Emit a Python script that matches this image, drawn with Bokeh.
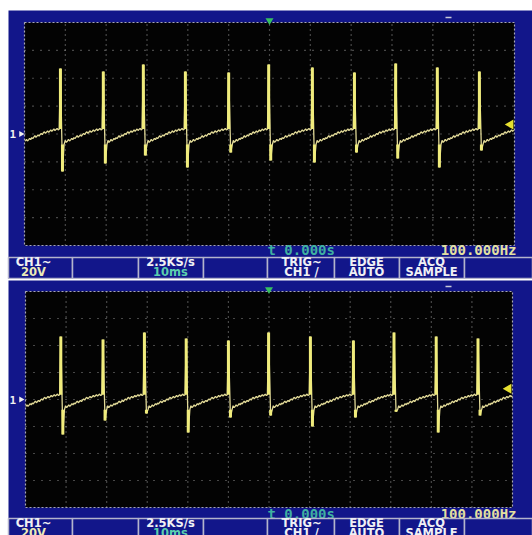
from bokeh.plotting import figure
from bokeh.layouts import column
from bokeh.models import Range1d
from bokeh.core.properties import value
from bokeh.embed import file_html
from bokeh.resources import INLINE
import math

# ---------------- data ----------------
X_DIVS_MS = [-60, -50, -40, -30, -20, -10, 0, 10, 20, 30, 40, 50, 60]
Y_DIVS_V = [-80, -60, -40, -20, 0, 20, 40, 60, 80]

TOP_SPIKE_T = [-51.2, -40.7, -30.9, -20.6, -10.0, -0.2, 10.5, 20.8, 30.9, 41.1, 51.4]
TOP_PEAK_V = [47.0, 44.8, 49.8, 44.8, 44.1, 49.8, 47.7, 44.1, 50.5, 47.7, 44.8]
TOP_TROUGH_V = [-26.9, -21.1, -15.4, -24.0, -13.3, -19.0, -20.4, -13.3, -17.6, -24.0, -11.8]

BOT_SPIKE_T = [-51.3, -40.9, -30.7, -20.4, -10.0, -0.1, 10.2, 20.8, 30.8, 41.2, 51.5]
BOT_PEAK_V = [46.7, 44.4, 49.6, 45.2, 43.7, 49.6, 46.7, 43.7, 49.6, 46.7, 45.2]
BOT_TROUGH_V = [-25.9, -15.6, -10.4, -24.4, -13.3, -11.9, -20.0, -13.3, -9.0, -24.4, -11.9]

# baseline between two spikes, read from left to right inside one cycle (V)
CYCLE_SHAPE_V = [-7.5, -4.6, -6.0, -5.2, -3.9, -5.0, -4.2, -3.1, -4.0, -2.6, -3.3, -2.2,
                 -1.2, -2.4, -1.5, -0.6, -1.6, -0.3, 0.4, -0.5, 0.9, 1.6, 0.5, 1.4,
                 2.3, 1.2, 2.0, 3.0, 1.9, 2.8, 3.6, 2.5, 3.3, 4.0, 2.9, 3.5]

TRIG_LEVEL_V = [6.8, 8.0]

STATUS_LINE1 = ["CH1~", "2.5KS/s", "TRIG~", "EDGE", "ACQ"]
STATUS_LINE2 = ["20V", "10ms", "CH1 /", "AUTO", "SAMPLE"]
TRIG_TIME = "t 0.000s"
FREQ = "100.000Hz"
CH_MARK = "1"

# ---------------- styling ----------------
BLUE = "#12168a"
MONO = value("DejaVu Sans Mono")
SANS = value("DejaVu Sans")
W = 532


def build_trace(ts, peaks, troughs):
    n = len(CYCLE_SHAPE_V)
    gaps = [b - a for a, b in zip(ts[:-1], ts[1:])]
    period = sum(gaps) / len(gaps)

    def seg(start, gap):
        return [(start + 0.9 + k * (gap - 1.2) / (n - 1), v) for k, v in enumerate(CYCLE_SHAPE_V)]

    xs, ys = [], []
    for t, v in seg(ts[0] - period, period):
        if t >= X_DIVS_MS[0]:
            xs.append(t); ys.append(v)
    for i, t in enumerate(ts):
        xs += [t, t + 0.5]
        ys += [peaks[i], troughs[i]]
        gap = gaps[i] if i < len(gaps) else period
        for tt, v in seg(t, gap):
            if tt <= X_DIVS_MS[-1]:
                xs.append(tt); ys.append(v)
    return xs, ys


def panel(H, box, blue_top, blue_bottom, status_y, bar_top, spikes, peaks, troughs, trig_v,
          marker_y):
    gl, gr, gt, gb = box
    sx = (gr - gl) / (X_DIVS_MS[-1] - X_DIVS_MS[0])
    sy = (gb - gt) / (Y_DIVS_V[-1] - Y_DIVS_V[0])
    x0 = X_DIVS_MS[0] - gl / sx
    ytop = Y_DIVS_V[-1] + gt / sy

    def px(u):
        return x0 + u / sx

    def py(v):
        return ytop - v / sy

    p = figure(width=W, height=H, x_range=Range1d(x0, px(W)), y_range=Range1d(py(H), ytop),
               output_backend="svg", toolbar_location=None, x_axis_location=None,
               y_axis_location=None, min_border=0)
    p.background_fill_color = "white"
    p.border_fill_color = "white"
    p.outline_line_color = None
    p.grid.visible = False

    xmin, xmax = X_DIVS_MS[0], X_DIVS_MS[-1]
    ymin, ymax = Y_DIVS_V[0], Y_DIVS_V[-1]

    # blue bezel and black screen
    p.quad(left=px(8), right=px(W), top=py(blue_top), bottom=py(blue_bottom),
           fill_color=BLUE, line_color=None)
    p.quad(left=xmin, right=xmax, bottom=ymin, top=ymax, fill_color="#030303", line_color=None)

    # dotted graticule
    inner_x = X_DIVS_MS[1:-1]
    inner_y = Y_DIVS_V[1:-1]
    p.segment(x0=inner_x, y0=[ymin] * len(inner_x), x1=inner_x, y1=[ymax] * len(inner_x),
              line_color="#8c8c8c", line_width=1.2, line_dash="1 4")
    p.segment(x0=[xmin] * len(inner_y), y0=inner_y, x1=[xmax] * len(inner_y), y1=inner_y,
              line_color="#8c8c8c", line_width=1.2, line_dash="1 7")
    p.quad(left=xmin, right=xmax, bottom=ymin, top=ymax, fill_color=None,
           line_color="#a8a8b4", line_width=1.2, line_dash="2 2")

    # trace
    xs, ys = build_trace(spikes, peaks, troughs)
    p.line(xs, ys, line_color="#e2da98", line_width=1.3)
    base_hi = CYCLE_SHAPE_V[-1]
    base_lo = CYCLE_SHAPE_V[0]
    p.segment(x0=spikes, y0=[base_hi] * len(spikes), x1=spikes, y1=peaks,
              line_color="#f0ec7c", line_width=3)
    tneg = [t + 0.5 for t in spikes]
    p.segment(x0=tneg, y0=[base_lo] * len(spikes), x1=tneg, y1=troughs,
              line_color="#f0ec7c", line_width=3)

    # markers
    p.text(x=[px(9)], y=[0], text=[CH_MARK], text_font=MONO, text_font_size="11px",
           text_font_style="bold", text_color="#f0f0f0", text_baseline="middle", text_align="left")
    p.scatter(x=[px(20.5)], y=[0], marker="triangle", angle=-math.pi / 2, size=6,
              fill_color="#f0f0f0", line_color=None)
    p.scatter(x=[0], y=[py(marker_y)], marker="inverted_triangle", size=8,
              fill_color="#36c060", line_color=None)
    p.scatter(x=[px(448)], y=[py(marker_y - 3)], marker="dash", size=6,
              line_color="#c8c8d8", line_width=1.5)
    p.scatter(x=[px(gr - 4)], y=[trig_v], marker="triangle", angle=math.pi / 2, size=10,
              fill_color="#e6e030", line_color=None)

    # status line
    p.text(x=[px(267)], y=[py(status_y)], text=[TRIG_TIME], text_font=MONO,
           text_font_size="14px", text_font_style="bold", text_color="#3fb0a0",
           text_baseline="middle", text_align="left")
    p.text(x=[px(516)], y=[py(status_y)], text=[FREQ], text_font=MONO,
           text_font_size="14px", text_font_style="bold", text_color="#e4e0a0",
           text_baseline="middle", text_align="right")

    # status bar boxes
    edges = [8, 72, 138, 203, 267, 334, 399, 464, W]
    p.quad(left=[px(e) for e in edges[:-1]], right=[px(e) for e in edges[1:]],
           top=py(bar_top), bottom=py(bar_top + 21), fill_color=BLUE,
           line_color="#b4b4cc", line_width=1.5)
    centers = [33, 170, 301, 366, 431]
    c2 = ["#ecebb8", "#5ccfae", "#f0f0f4", "#f0f0f4", "#f0f0f4"]
    p.text(x=[px(c) for c in centers], y=[py(bar_top + 4.5)] * 5, text=STATUS_LINE1,
           text_font=SANS, text_font_size="11.5px", text_font_style="bold",
           text_color="#f0f0f4", text_baseline="middle", text_align="center")
    p.text(x=[px(c) for c in centers], y=[py(bar_top + 14.5)] * 5, text=STATUS_LINE2,
           text_font=SANS, text_font_size="11.5px", text_font_style="bold",
           text_color=c2, text_baseline="middle", text_align="center")
    return p


top = panel(279, (24, 514, 22, 245), 10, 278, 249, 257,
            TOP_SPIKE_T, TOP_PEAK_V, TOP_TROUGH_V, TRIG_LEVEL_V[0], 20)
bottom = panel(256, (25, 512, 12, 228), 1, 256, 234, 239,
               BOT_SPIKE_T, BOT_PEAK_V, BOT_TROUGH_V, TRIG_LEVEL_V[1], 10)

layout = column(top, bottom, spacing=0)
open("out.html", "w").write(file_html(layout, INLINE))
